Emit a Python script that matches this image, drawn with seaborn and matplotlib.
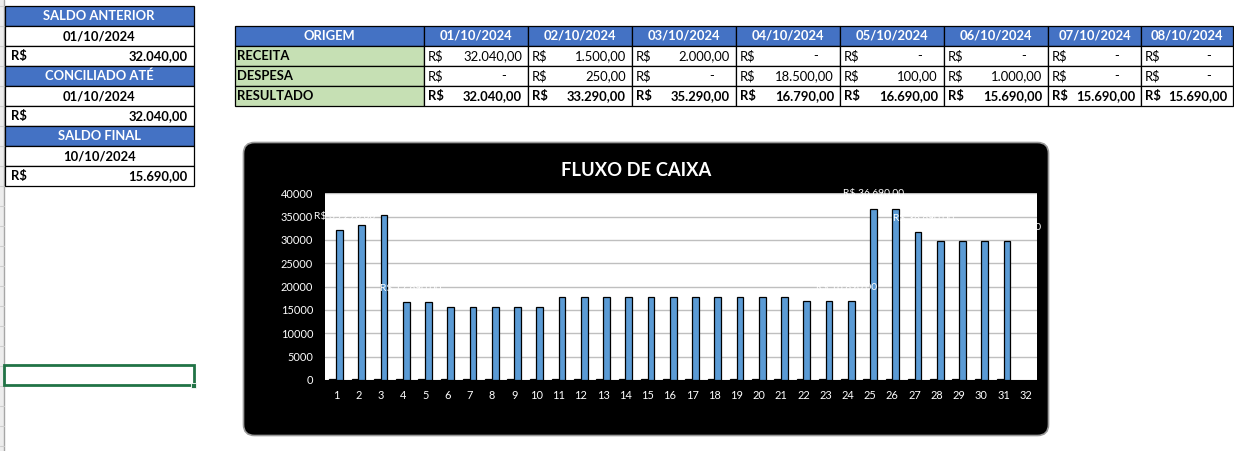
import numpy as np
import pandas as pd
import matplotlib
matplotlib.use("Agg")
import matplotlib.pyplot as plt
import seaborn as sns
from matplotlib.patches import Rectangle, FancyBboxPatch

# ---------------- data ----------------
datas = ["01/10/2024", "02/10/2024", "03/10/2024", "04/10/2024",
         "05/10/2024", "06/10/2024", "07/10/2024", "08/10/2024"]
receita = [32040, 1500, 2000, 0, 0, 0, 0, 0]
despesa = [0, 250, 0, 18500, 100, 1000, 0, 0]
resultado = [32040, 33290, 35290, 16790, 16690, 15690, 15690, 15690]

saldo_anterior_data = "01/10/2024"
saldo_anterior = 32040
conciliado_data = "01/10/2024"
conciliado = 32040
saldo_final_data = "10/10/2024"
saldo_final = 15690

dias = [str(i) for i in range(1, 33)]
serie_pequena = [150] * 31 + [np.nan]
serie_saldo = [32040, 33290, 35290, 16790, 16690, 15690, 15690, 15690, 15690, 15690,
               17690, 17690, 17690, 17690, 17690, 17690, 17690, 17690, 17690, 17690, 17690,
               16890, 16890, 16890, 36690, 36690, 31690, 29690, 29690, 29690, 29690, np.nan]
yticks = [0, 5000, 10000, 15000, 20000, 25000, 30000, 35000, 40000]

# ---------------- style ----------------
sns.set_theme(style="white")
plt.rcParams['font.family'] = ['Lato', 'DejaVu Sans']

W, H = 1234, 451
fig = plt.figure(figsize=(W / 100, H / 100), dpi=100)
fig.patch.set_facecolor("white")
bg = fig.add_axes([0, 0, 1, 1], zorder=0)
bg.set_xlim(0, W)
bg.set_ylim(H, 0)
bg.axis("off")

BLUE = "#4472C4"
GREEN = "#C6E0B4"
FS = 9.4


def brl(v):
    s = f"{v:,.2f}"
    return s.replace(",", "X").replace(".", ",").replace("X", ".")


def cell(x0, y0, x1, y1, fc="white"):
    bg.add_patch(Rectangle((x0, y0), x1 - x0, y1 - y0, facecolor=fc,
                           edgecolor="black", linewidth=0.9, zorder=2))


def money(x0, x1, ym, v, bold):
    w = "bold" if bold else "normal"
    bg.text(x0 + 4, ym, "R$", ha="left", va="center", fontsize=FS, fontweight=w,
            color="black", zorder=3)
    if v == 0:
        bg.text(x1 - 22, ym, "-", ha="right", va="center", fontsize=FS,
                fontweight=w, color="black", zorder=3)
    else:
        bg.text(x1 - 6, ym, brl(v), ha="right", va="center", fontsize=FS,
                fontweight=w, color="black", zorder=3)


# spreadsheet row-header strip at far left
bg.add_patch(Rectangle((0, 0), 4, H, facecolor="#EDEDED", edgecolor="none", zorder=1))
bg.plot([4, 4], [0, H], color="#A6A6A6", lw=1, zorder=1)
for yy in np.arange(5.7, H, 20):
    bg.plot([0, 4], [yy, yy], color="#CFCFCF", lw=0.8, zorder=1)

# ---------------- left summary table ----------------
lx0, lx1 = 4.5, 193.5
ry = [5.7 + 20 * i for i in range(10)]
blocks = [("SALDO ANTERIOR", saldo_anterior_data, saldo_anterior),
          ("CONCILIADO ATÉ", conciliado_data, conciliado),
          ("SALDO FINAL", saldo_final_data, saldo_final)]
for b, (tit, dt, val) in enumerate(blocks):
    y = ry[3 * b]
    cell(lx0, y, lx1, y + 20, BLUE)
    bg.text((lx0 + lx1) / 2, y + 10.5, tit, ha="center", va="center", fontsize=FS,
            fontweight="bold", color="white", zorder=3)
    cell(lx0, y + 20, lx1, y + 40)
    bg.text((lx0 + lx1) / 2, y + 30.5, dt, ha="center", va="center", fontsize=FS,
            fontweight="bold", color="black", zorder=3)
    cell(lx0, y + 40, lx1, y + 60)
    bg.text(lx0 + 6, y + 50.5, "R$", ha="left", va="center", fontsize=FS,
            fontweight="bold", color="black", zorder=3)
    bg.text(lx1 - 6, y + 50.5, brl(val), ha="right", va="center", fontsize=FS,
            fontweight="bold", color="black", zorder=3)

# selected cell
bg.add_patch(Rectangle((3.5, 364.5), 190, 20.5, facecolor="none",
                       edgecolor="#217346", linewidth=2, zorder=4))
bg.add_patch(Rectangle((190.5, 382.5), 5, 5, facecolor="#217346",
                       edgecolor="white", linewidth=0.6, zorder=5))

# ---------------- main table ----------------
cx = [235, 424, 528, 632, 736, 840, 944, 1048, 1141, 1233]
rows_y = [25.5, 45.7, 65.7, 85.7, 105.7]
cell(cx[0], rows_y[0], cx[1], rows_y[1], BLUE)
bg.text((cx[0] + cx[1]) / 2, rows_y[0] + 10.5, "ORIGEM", ha="center", va="center",
        fontsize=FS, fontweight="bold", color="white", zorder=3)
labels_rows = ["RECEITA", "DESPESA", "RESULTADO"]
series_rows = [receita, despesa, resultado]
for r, lab in enumerate(labels_rows):
    y0, y1 = rows_y[r + 1], rows_y[r + 2]
    cell(cx[0], y0, cx[1], y1, GREEN)
    bg.text(cx[0] + 2, (y0 + y1) / 2 + 0.5, lab, ha="left", va="center", fontsize=FS,
            fontweight="bold", color="black", zorder=3)
for c, d in enumerate(datas):
    x0, x1 = cx[c + 1], cx[c + 2]
    cell(x0, rows_y[0], x1, rows_y[1], BLUE)
    bg.text((x0 + x1) / 2, rows_y[0] + 10.5, d, ha="center", va="center",
            fontsize=FS, fontweight="bold", color="white", zorder=3)
    for r, ser in enumerate(series_rows):
        y0, y1 = rows_y[r + 1], rows_y[r + 2]
        cell(x0, y0, x1, y1)
        money(x0, x1, (y0 + y1) / 2 + 0.5, ser[c], bold=(r == 2))

# ---------------- chart ----------------
bx0, by0, bx1, by1, rad = 243.5, 142.5, 1048.5, 435.5, 11
bg.add_patch(FancyBboxPatch((bx0 + rad, by0 + rad), bx1 - bx0 - 2 * rad, by1 - by0 - 2 * rad,
                            boxstyle=f"round,pad={rad}", facecolor="black",
                            edgecolor="#9A9A9A", linewidth=1.2, zorder=1))
bg.text(636, 170, "FLUXO DE CAIXA", ha="center", va="center", fontsize=13.2,
        fontweight="bold", color="white", zorder=3)

px0, px1, py_top, py_bot = 325, 1037, 193.3, 380
ax = fig.add_axes([px0 / W, 1 - py_bot / H, (px1 - px0) / W, (py_bot - py_top) / H], zorder=2)
ax.set_facecolor("white")

df = pd.DataFrame({
    "dia": dias * 2,
    "serie": ["Série1"] * len(dias) + ["Série2"] * len(dias),
    "valor": serie_pequena + serie_saldo,
})
sns.barplot(data=df, x="dia", y="valor", hue="serie", order=dias,
            hue_order=["Série1", "Série2"], palette=["#000000", "#5B9BD5"],
            edgecolor="black", linewidth=0.9, width=0.6, saturation=1,
            legend=False, ax=ax, zorder=3)
ax.set_ylim(0, 40000)
ax.set_xlim(-0.5, len(dias) - 0.5)
ax.set_yticks(yticks)
ax.set_yticklabels([str(t) for t in yticks])
ax.yaxis.grid(True, color="#BFBFBF", linewidth=1)
ax.xaxis.grid(False)
ax.set_axisbelow(True)
for s in ax.spines.values():
    s.set_visible(False)
ax.tick_params(axis="both", length=0, colors="white", labelsize=7.9)
ax.tick_params(axis="y", pad=8.5)
ax.tick_params(axis="x", pad=7)
ax.set_xlabel("")
ax.set_ylabel("")

# faint (mostly hidden) white data labels as in the original
lab_kw = dict(color="white", fontsize=7.4, zorder=6, transform=bg.transData,
              clip_on=False, va="center")
ax.text(314, 216, "R$ 35.290,00", ha="left", **lab_kw)
ax.text(380, 288, "R$ 17.690,00", ha="left", **lab_kw)
ax.text(843, 193, "R$ 36.690,00", ha="left", **lab_kw)
ax.text(893, 218, "R$ 36.690,00", ha="left", **lab_kw)
ax.text(1041, 227, "R$ 29.690,00", ha="right", **lab_kw)
ax.text(877, 287, "R$ 16.890,00", ha="right", **lab_kw)

fig.savefig("out.png", dpi=100, facecolor="white")
